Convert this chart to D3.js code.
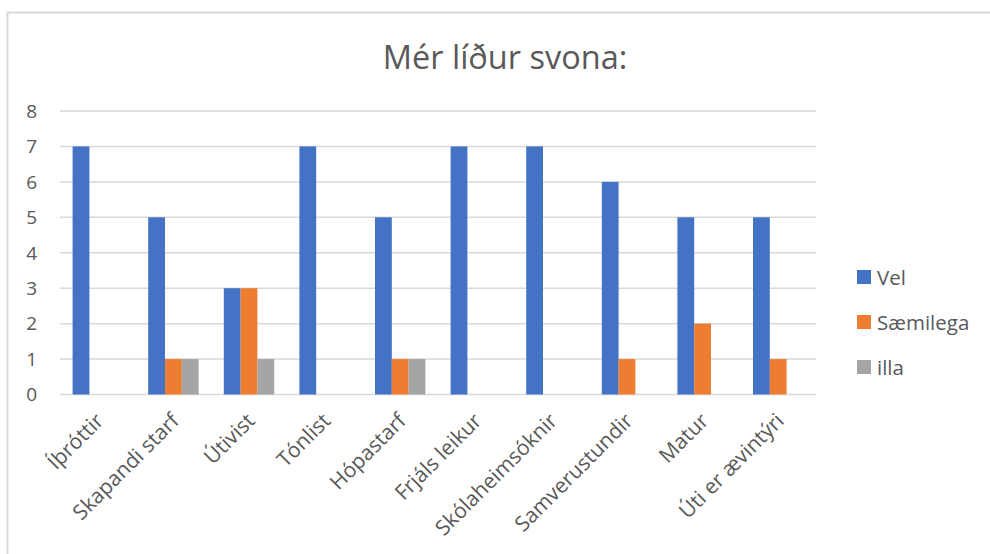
<!DOCTYPE html>
<html>
<head>
<meta charset="utf-8">
<script src="https://cdn.jsdelivr.net/npm/d3@7"></script>
<style>
  body { margin: 0; background: #fff; }
  text { font-family: "Open Sans", sans-serif; fill: #595959; }
</style>
</head>
<body>
<div id="chart"></div>
<script>
var categories = ["Íþróttir", "Skapandi starf", "Útivist", "Tónlist", "Hópastarf",
    "Frjáls leikur", "Skólaheimsóknir", "Samverustundir", "Matur", "Úti er ævintýri"];
var seriesNames = ["Vel", "Sæmilega", "illa"];
var velValues = [7, 5, 3, 7, 5, 7, 7, 6, 5, 5];
var saemilegaValues = [0, 1, 3, 0, 1, 0, 0, 1, 2, 1];
var illaValues = [0, 1, 1, 0, 1, 0, 0, 0, 0, 0];
var yTicks = [0, 1, 2, 3, 4, 5, 6, 7, 8];
var colors = ["#4472C4", "#ED7D31", "#A5A5A5"];

var width = 990, height = 554;
var plot = { left: 60, right: 816, top: 111, bottom: 394.5 };

var svg = d3.select("#chart").append("svg")
    .attr("width", width)
    .attr("height", height);

// outer chart border (right / bottom edges fall outside the picture)
svg.append("rect")
    .attr("x", 7.5).attr("y", 12.5)
    .attr("width", 1000).attr("height", 600)
    .style("fill", "none")
    .style("stroke", "#d9d9d9")
    .style("stroke-width", 2);

var x0 = d3.scaleBand().domain(categories).range([plot.left, plot.right]);
var x1 = d3.scaleBand().domain(seriesNames).range([0, x0.bandwidth()])
    .paddingInner(0).paddingOuter(0.75);
var y = d3.scaleLinear().domain([0, 8]).range([plot.bottom, plot.top]);

// gridlines
svg.append("g").selectAll("line")
    .data(yTicks)
    .join("line")
    .attr("x1", plot.left).attr("x2", plot.right)
    .attr("y1", d => y(d)).attr("y2", d => y(d))
    .style("stroke", "#d9d9d9")
    .style("stroke-width", 1.5);

// y labels
svg.append("g").selectAll("text")
    .data(yTicks)
    .join("text")
    .attr("x", 37)
    .attr("y", d => y(d))
    .attr("dy", "0.36em")
    .attr("text-anchor", "end")
    .style("font-size", "19px")
    .text(d => d);

// bars
var seriesData = [velValues, saemilegaValues, illaValues];
seriesNames.forEach(function(name, i) {
    svg.append("g").selectAll("rect")
        .data(categories.filter((c, j) => seriesData[i][j] > 0))
        .join("rect")
        .attr("x", c => x0(c) + x1(name))
        .attr("y", c => y(seriesData[i][categories.indexOf(c)]))
        .attr("width", x1.bandwidth())
        .attr("height", c => y(0) - y(seriesData[i][categories.indexOf(c)]))
        .style("fill", colors[i]);
});

// x labels
svg.append("g").selectAll("text")
    .data(categories)
    .join("text")
    .attr("transform", c => "translate(" + (x0(c) + x0.bandwidth() / 2 - 4) + "," + 411 + ") rotate(-45)")
    .attr("dy", "0.75em")
    .attr("text-anchor", "end")
    .style("font-size", "21px")
    .text(c => c);

// title
svg.append("text")
    .attr("x", 505).attr("y", 69)
    .attr("text-anchor", "middle")
    .style("font-size", "32.5px")
    .text("Mér líður svona:");

// legend
var legend = svg.append("g").selectAll("g")
    .data(seriesNames)
    .join("g")
    .attr("transform", (d, i) => "translate(857," + (270 + i * 45) + ")");
legend.append("rect")
    .attr("width", 14).attr("height", 14)
    .style("fill", (d, i) => colors[i]);
legend.append("text")
    .attr("x", 20).attr("y", 14.5)
    .style("font-size", "20.5px")
    .text(d => d);
</script>
</body>
</html>
